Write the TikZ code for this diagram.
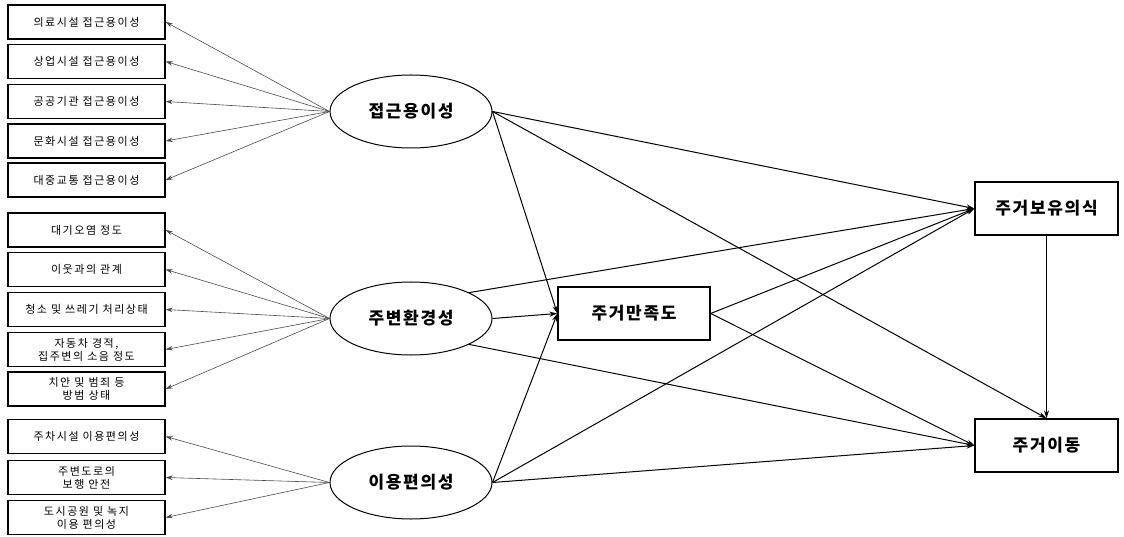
\documentclass[tikz,border=0pt]{standalone}
\usepackage{fontspec}
\newfontfamily\krfont[LetterSpace=14]{Noto Sans CJK KR}
\newfontfamily\krbold[LetterSpace=10]{Noto Sans CJK KR}
\usetikzlibrary{arrows.meta,shapes.geometric}

\tikzset{
  item/.style={draw, line width=1.3pt, minimum width=157pt, minimum height=34pt,
    inner sep=1pt, align=center, font=\krfont\fontsize{11}{13}\selectfont},
  latent/.style={draw, ellipse, line width=1pt, minimum width=162pt,
    minimum height=73pt, inner sep=0pt, font=\krbold\bfseries\fontsize{17}{19}\selectfont},
  outcome/.style={draw, line width=1.3pt, minimum height=53pt, inner sep=0pt,
    font=\krbold\bfseries\fontsize{17}{19}\selectfont},
  load/.style={-{Stealth[length=7pt,width=4.5pt]}, gray!60!black, line width=0.6pt},
  effect/.style={-{Stealth[length=8pt,width=5pt]}, line width=1pt},
}

\begin{document}
\begin{tikzpicture}[x=1pt, y=-1pt]
        \useasboundingbox (0,0) rectangle (1124,537);

        % Observed items: accessibility
        \node[item] (a1) at (86.5,22) {의료시설 접근용이성};
        \node[item] (a2) at (86.5,61.5) {상업시설 접근용이성};
        \node[item] (a3) at (86.5,101.5) {공공기관 접근용이성};
        \node[item] (a4) at (86.5,141) {문화시설 접근용이성};
        \node[item] (a5) at (86.5,180) {대중교통 접근용이성};

        % Observed items: surroundings
        \node[item] (e1) at (86.5,230) {대기오염 정도};
        \node[item] (e2) at (86.5,269.5) {이웃과의 관계};
        \node[item] (e3) at (86.5,309.5) {청소 및 쓰레기 처리상태};
        \node[item] (e4) at (86.5,349.5) {자동차 경적,\\집주변의 소음 정도};
        \node[item] (e5) at (86.5,389) {치안 및 범죄 등\\방범 상태};

        % Observed items: convenience
        \node[item] (c1) at (86.5,436.5) {주차시설 이용편의성};
        \node[item] (c2) at (86.5,477.5) {주변도로의\\보행 안전};
        \node[item] (c3) at (86.5,517.5) {도시공원 및 녹지\\이용 편의성};

        % Latent factors
        \node[latent] (acc) at (411,111.5) {접근용이성};
        \node[latent] (env) at (411,318.5) {주변환경성};
        \node[latent] (conv) at (411,482.5) {이용편의성};

        % Outcomes
        \node[outcome, minimum width=152pt] (sat) at (634,313.5) {주거만족도};
        \node[outcome, minimum width=143pt] (own) at (1046.5,208.5) {주거보유의식};
        \node[outcome, minimum width=143pt] (move) at (1046.5,445.5) {주거이동};

        % Loadings
        \draw[load] (acc.west) -- (a1.east);
        \draw[load] (acc.west) -- (a2.east);
        \draw[load] (acc.west) -- (a3.east);
        \draw[load] (acc.west) -- (a4.east);
        \draw[load] (acc.west) -- (a5.east);
        \draw[load] (env.west) -- (e1.east);
        \draw[load] (env.west) -- (e2.east);
        \draw[load] (env.west) -- (e3.east);
        \draw[load] (env.west) -- (e4.east);
        \draw[load] (env.west) -- (e5.east);
        \draw[load] (conv.west) -- (c1.east);
        \draw[load] (conv.west) -- (c2.east);
        \draw[load] (conv.west) -- (c3.east);

        % Paths
        \draw[effect] (acc.east) -- (sat.west);
        \draw[effect] (acc.east) -- (own.west);
        \draw[effect] (acc.east) -- (move.north);
        \draw[effect] (env.east) -- (sat.west);
        \draw[effect] (env.24) -- (own.west);
        \draw[effect] (env.-24) -- (move.west);
        \draw[effect] (conv.east) -- (sat.west);
        \draw[effect] (conv.east) -- (own.west);
        \draw[effect] (conv.east) -- (move.west);
        \draw[effect] (sat.east) -- (own.west);
        \draw[effect] (sat.east) -- (move.west);
        \draw[effect] (own.south) -- (move.north);
\end{tikzpicture}
\end{document}
